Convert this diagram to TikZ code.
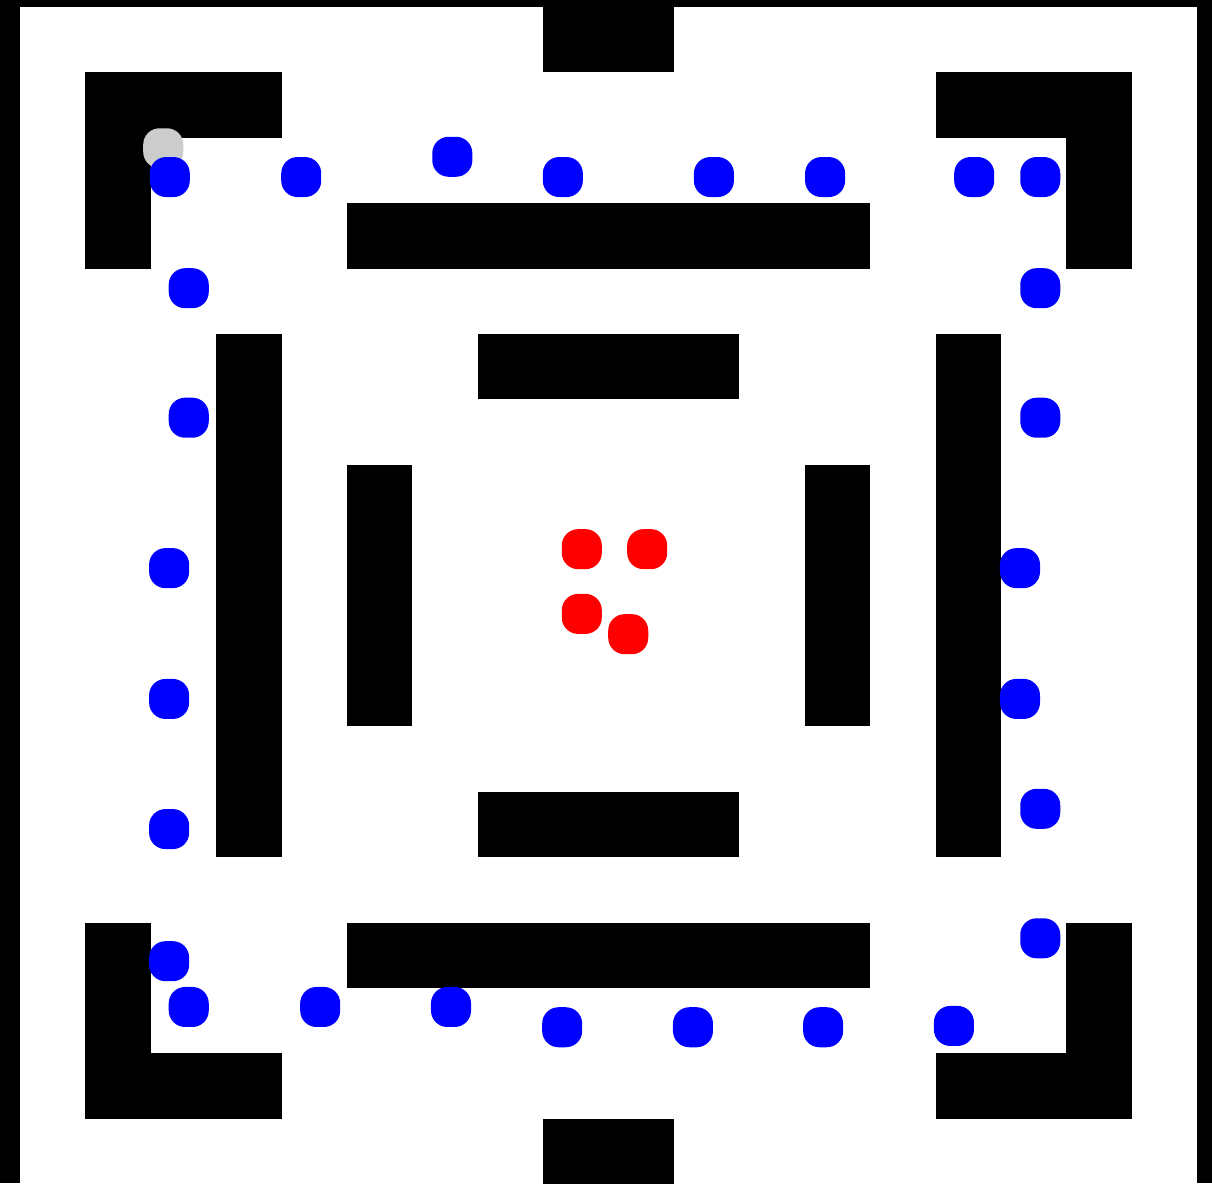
\documentclass[tikz,border=0pt]{standalone}
\usepackage{tikz}
\definecolor{pellet}{RGB}{0,0,255}
\definecolor{chaser}{RGB}{255,0,0}
\definecolor{spawn}{RGB}{204,204,204}
\tikzset{
  wall/.style={fill=black},
  floorarea/.style={fill=white},
  bead/.style={rounded corners=2.5mm},
}
\newcommand{\bead}[3]{\fill[bead,#1,shift={(#2,#3)}] (-0.306,-0.306) rectangle (0.306,0.306);}

\begin{document}
\begin{tikzpicture}[x=1cm, y=-1cm]
  % frame and floor
  \useasboundingbox (-0.306,-0.107) rectangle (18.226,17.982);
  \fill[wall] (-0.306,-0.107) rectangle (18.226,17.982);
  \fill[floorarea] (0,0) rectangle (18,17.982);
  % walls
  \foreach \xa/\ya/\xb/\yb in {8/-0.2/10/1, 1/1/4/2, 1/1/2/4, 14/1/17/2, 16/1/17/4,
      5/3/13/4, 3/5/4/13, 14/5/15/13, 7/5/11/6, 5/7/6/11, 12/7/13/11,
      7/12/11/13, 5/14/13/15, 1/14/2/17, 1/16/4/17, 16/14/17/17, 14/16/17/17,
      8/17/10/18.2}
    \fill[wall] (\xa,\ya) rectangle (\xb,\yb);
  % start
  \bead{spawn}{2.19}{2.16}
  % pellets
  \foreach \px/\py in {2.29/2.60, 4.30/2.60, 6.61/2.29, 8.30/2.60, 10.61/2.60,
      12.31/2.60, 14.59/2.60, 15.60/2.60, 2.58/4.30, 15.60/4.30, 2.58/6.28,
      15.60/6.28, 2.28/8.58, 15.29/8.58, 2.28/10.58, 15.29/10.58, 2.28/12.57,
      15.60/12.26, 2.28/14.59, 15.60/14.24, 2.58/15.29, 4.59/15.29, 6.59/15.29,
      8.29/15.60, 10.29/15.60, 12.28/15.60, 14.28/15.58}
    {\bead{pellet}{\px}{\py}}
  % chasers
  \foreach \px/\py in {8.59/8.29, 9.59/8.29, 8.59/9.28, 9.30/9.59}
    {\bead{chaser}{\px}{\py}}
\end{tikzpicture}
\end{document}
